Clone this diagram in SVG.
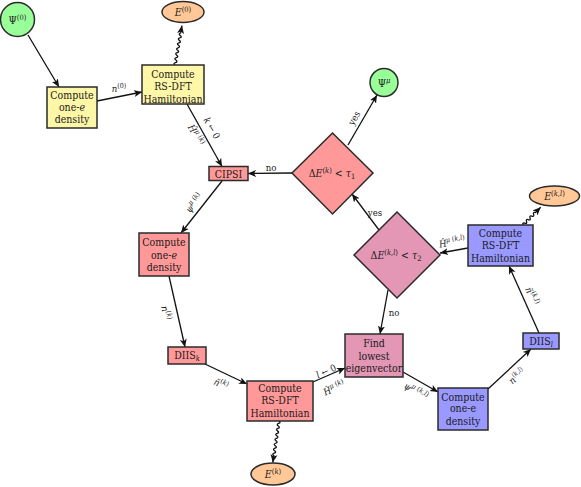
<svg xmlns="http://www.w3.org/2000/svg" width="581" height="487" viewBox="0 0 581 487">
<defs>
<marker id="arr" markerWidth="9" markerHeight="8" refX="8" refY="4" orient="auto" markerUnits="userSpaceOnUse"><path d="M0,0.5 L8,4 L0,7.5 L2,4 z" fill="#111"/></marker>
<style>
.n{stroke:#2b2b2b;stroke-width:1.5}
.y{fill:#fff7a8}.r{fill:#ff9999}.b{fill:#9999ff}.g{fill:#99ff99}.o{fill:#ffc896}.p{fill:#e397b4}
text{font-family:'DejaVu Serif Condensed','DejaVu Serif',serif;font-stretch:condensed;fill:#1a1a1a;text-anchor:middle}
.t{font-size:10.5px}
.l{font-size:9.5px}
.i{font-style:italic}
.e{fill:none;stroke:#111;stroke-width:1.3;marker-end:url(#arr)}
</style>
</defs>
<rect width="581" height="487" fill="#fff"/>
<g id="connectors">
<line class="e" x1="28" y1="35" x2="59" y2="87"/>
<line class="e" x1="97" y1="101" x2="142" y2="92"/>
<path class="e" transform="translate(175,65) rotate(-80)" d="M0,0 q1.25,-2.5 2.5,0 t2.5,0 t2.5,0 t2.5,0 t2.5,0 t2.5,0 t2.5,0 t2.5,0 t2.5,0 t2.5,0 t2.5,0 t2.5,0 t2.5,0 L40,0"/>
<line class="e" x1="187" y1="104" x2="222" y2="166.5"/>
<line class="e" x1="292" y1="173" x2="248" y2="173.5"/>
<line class="e" x1="348" y1="145" x2="377" y2="95"/>
<line class="e" x1="222" y1="181" x2="181" y2="233"/>
<line class="e" x1="169" y1="276" x2="185" y2="347"/>
<line class="e" x1="205" y1="364" x2="247" y2="384"/>
<path class="e" transform="translate(279,421) rotate(98.5)" d="M0,0 q1.25,-2.5 2.5,0 t2.5,0 t2.5,0 t2.5,0 t2.5,0 t2.5,0 t2.5,0 t2.5,0 t2.5,0 t2.5,0 t2.5,0 t2.5,0 t2.5,0 t2.5,0 L42,0"/>
<line class="e" x1="313" y1="382" x2="345" y2="368"/>
<line class="e" x1="388" y1="290" x2="380" y2="334"/>
<line class="e" x1="403" y1="372" x2="438" y2="392"/>
<line class="e" x1="488" y1="389" x2="531" y2="349"/>
<line class="e" x1="539" y1="333" x2="509" y2="266"/>
<path class="e" transform="translate(523,225) rotate(-45)" d="M0,0 q1.25,-2.5 2.5,0 t2.5,0 t2.5,0 t2.5,0 t2.5,0 t2.5,0 t2.5,0 L25,0"/>
<line class="e" x1="468" y1="248" x2="440" y2="253"/>
<line class="e" x1="379" y1="230" x2="352" y2="194"/>
<text class="l" x="119" y="92"><tspan class="i">n</tspan><tspan dy="-4" font-size="7">(0)</tspan></text>
<text class="l" transform="translate(212,128) rotate(60)" y="3.5"><tspan class="i">k</tspan> ← 0</text>
<text class="l" transform="translate(196,135) rotate(60)" y="3.5"><tspan class="i">Ĥ</tspan><tspan dy="-4" font-size="7"><tspan class="i">μ</tspan> (<tspan class="i">k</tspan>)</tspan></text>
<text class="l" x="271" y="171">no</text>
<text class="l" transform="translate(354,118) rotate(-60)" y="3.5">yes</text>
<text class="l" transform="translate(194,203) rotate(-51)" y="3.5"><tspan class="i">ψ</tspan><tspan dy="-4" font-size="7"><tspan class="i">μ</tspan> (<tspan class="i">k</tspan>)</tspan></text>
<text class="l" transform="translate(166,313) rotate(77)" y="3.5"><tspan class="i">n</tspan><tspan dy="-4" font-size="7">(<tspan class="i">k</tspan>)</tspan></text>
<text class="l" transform="translate(221,384) rotate(25)" y="3.5"><tspan class="i">ñ</tspan><tspan dy="-4" font-size="7">(<tspan class="i">k</tspan>)</tspan></text>
<text class="l" transform="translate(326,371) rotate(-24)" y="3.5"><tspan class="i">l</tspan> ← 0</text>
<text class="l" transform="translate(334,388) rotate(-24)" y="3.5"><tspan class="i">Ĥ</tspan><tspan dy="-4" font-size="7"><tspan class="i">μ</tspan> (<tspan class="i">k</tspan>)</tspan></text>
<text class="l" x="394" y="316">no</text>
<text class="l" transform="translate(416,391) rotate(30)" y="3.5"><tspan class="i">ψ</tspan><tspan dy="-4" font-size="7"><tspan class="i">μ</tspan> (<tspan class="i">k,l</tspan>)</tspan></text>
<text class="l" transform="translate(517,376) rotate(-42)" y="3.5"><tspan class="i">n</tspan><tspan dy="-4" font-size="7">(<tspan class="i">k,l</tspan>)</tspan></text>
<text class="l" transform="translate(532,296) rotate(66)" y="3.5"><tspan class="i">ñ</tspan><tspan dy="-4" font-size="7">(<tspan class="i">k,l</tspan>)</tspan></text>
<text class="l" transform="translate(452,242) rotate(-10)" y="3.5"><tspan class="i">Ĥ</tspan><tspan dy="-4" font-size="7"><tspan class="i">μ</tspan> (<tspan class="i">k,l</tspan>)</tspan></text>
<text class="l" x="375" y="216">yes</text>
</g>
<g id="psi0"><circle class="n g" cx="17.5" cy="19.5" r="17"/><text class="t" x="17.5" y="23.5">Ψ<tspan dy="-4" font-size="7.5">(0)</tspan></text></g>
<g id="dens0"><rect class="n y" x="47" y="87" width="50" height="41"/><text class="t" x="72" y="99">Compute</text><text class="t" x="72" y="111">one-<tspan class="i">e</tspan></text><text class="t" x="72" y="123">density</text></g>
<g id="ham0"><rect class="n y" x="142" y="65" width="62" height="39"/><text class="t" x="173" y="78">Compute</text><text class="t" x="173" y="90">RS-DFT</text><text class="t" x="173" y="102.5">Hamiltonian</text></g>
<g id="E0"><ellipse class="n o" cx="183" cy="12" rx="21" ry="10.5"/><text class="t" x="183" y="16"><tspan class="i">E</tspan><tspan dy="-4" font-size="7.5">(0)</tspan></text></g>
<g id="psimu"><circle class="n g" cx="384" cy="82.5" r="14"/><text class="t" x="384" y="86.5">Ψ<tspan dy="-4" font-size="7.5" class="i">μ</tspan></text></g>
<g id="dec1"><polygon class="n r" points="332.5,133 373,173 332.5,214 292,173"/><text class="t" x="332" y="177">Δ<tspan class="i">E</tspan><tspan dy="-4" font-size="7.5">(<tspan class="i">k</tspan>)</tspan><tspan dy="4"> &lt; </tspan><tspan class="i">τ</tspan><tspan dy="2" font-size="7.5">1</tspan></text></g>
<g id="cipsi"><rect class="n r" x="209" y="166.5" width="39" height="14"/><text class="t" x="228.5" y="177.5">CIPSI</text></g>
<g id="dens1"><rect class="n r" x="139" y="233" width="50" height="43"/><text class="t" x="164" y="246">Compute</text><text class="t" x="164" y="259">one-<tspan class="i">e</tspan></text><text class="t" x="164" y="271">density</text></g>
<g id="diisk"><rect class="n r" x="168" y="347" width="38" height="17"/><text class="t" x="187" y="359">DIIS<tspan dy="2" font-size="7.5" class="i">k</tspan></text></g>
<g id="ham1"><rect class="n r" x="247" y="381" width="66" height="40"/><text class="t" x="280" y="392">Compute</text><text class="t" x="280" y="404">RS-DFT</text><text class="t" x="280" y="417">Hamiltonian</text></g>
<g id="Ek"><ellipse class="n o" cx="273" cy="474" rx="22" ry="11"/><text class="t" x="273" y="478"><tspan class="i">E</tspan><tspan dy="-4" font-size="7.5">(<tspan class="i">k</tspan>)</tspan></text></g>
<g id="find"><rect class="n p" x="345" y="334" width="58" height="43"/><text class="t" x="374" y="347">Find</text><text class="t" x="374" y="360">lowest</text><text class="t" x="374" y="372">eigenvector</text></g>
<g id="dec2"><polygon class="n p" points="397,212 440,255 397,298 354,255"/><text class="t" x="396" y="259">Δ<tspan class="i">E</tspan><tspan dy="-4" font-size="7.5">(<tspan class="i">k,l</tspan>)</tspan><tspan dy="4"> &lt; </tspan><tspan class="i">τ</tspan><tspan dy="2" font-size="7.5">2</tspan></text></g>
<g id="ham2"><rect class="n b" x="468" y="225" width="65" height="41"/><text class="t" x="500.5" y="237">Compute</text><text class="t" x="500.5" y="249">RS-DFT</text><text class="t" x="500.5" y="262">Hamiltonian</text></g>
<g id="Ekl"><ellipse class="n o" cx="554.5" cy="196" rx="25" ry="10"/><text class="t" x="554.5" y="200"><tspan class="i">E</tspan><tspan dy="-4" font-size="7.5">(<tspan class="i">k,l</tspan>)</tspan></text></g>
<g id="diisl"><rect class="n b" x="523" y="333" width="36" height="16"/><text class="t" x="541" y="344.5">DIIS<tspan dy="2" font-size="7.5" class="i">l</tspan></text></g>
<g id="dens2"><rect class="n b" x="438" y="388" width="50" height="42"/><text class="t" x="463" y="401">Compute</text><text class="t" x="463" y="412">one-e</text><text class="t" x="463" y="425">density</text></g>
</svg>
